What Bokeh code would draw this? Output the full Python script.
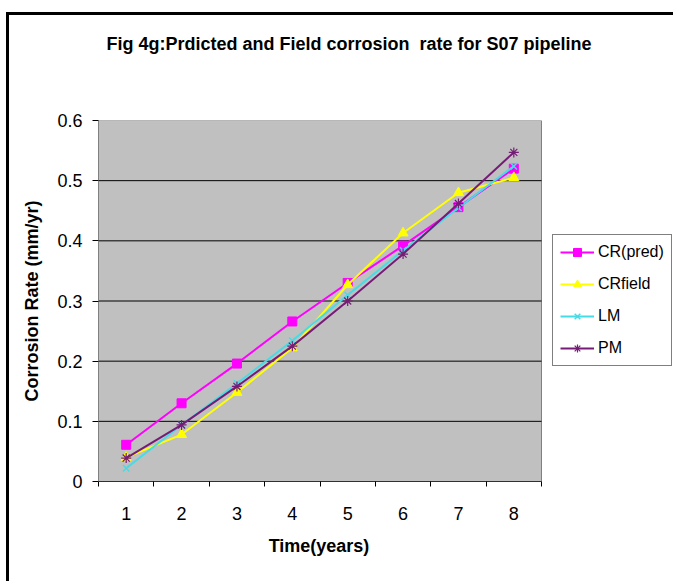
from bokeh.plotting import figure
from bokeh.models import Range1d, FixedTicker, Legend, LegendItem, Div
from bokeh.layouts import column
from bokeh.embed import file_html
from bokeh.resources import INLINE

years = [1, 2, 3, 4, 5, 6, 7, 8]
cr_pred = [0.061, 0.130, 0.196, 0.266, 0.330, 0.392, 0.456, 0.520]
cr_field = [0.040, 0.078, 0.148, 0.222, 0.327, 0.413, 0.480, 0.505]
lm = [0.022, 0.094, 0.163, 0.234, 0.310, 0.384, 0.455, 0.524]
pm = [0.039, 0.094, 0.158, 0.225, 0.300, 0.378, 0.462, 0.547]
y_ticks = [0, 0.1, 0.2, 0.3, 0.4, 0.5, 0.6]
title_text = "Fig 4g:Prdicted and Field corrosion  rate for S07 pipeline"
x_title = "Time(years)"
y_title = "Corrosion Rate (mm/yr)"

FONT = "Liberation Sans"

# layout sizes (pixels)
FIG_W, FIG_H = 664, 456
BORDER_L, BORDER_T, BORDER_B = 89, 45, 50
PLOT_PX = 443                     # width of the grey plot area
FRAME_PX = FIG_W - BORDER_L       # frame runs to the right edge (room for legend)

x0 = years[0] - 0.5
x1 = years[-1] + 0.5
x_end = x0 + (x1 - x0) * FRAME_PX / PLOT_PX

title_div = Div(text='<div style="padding-top:17px;padding-left:16px">' + title_text + '</div>',
                width=FIG_W, height=60, margin=0,
                styles={"text-align": "center", "font-family": FONT, "font-size": "18px",
                        "font-weight": "bold", "color": "black", "white-space": "pre"})

xlabel_div = Div(text='<div style="padding-top:3px">' + x_title + '</div>',
                 width=2 * (BORDER_L + PLOT_PX // 2), height=50, margin=0,
                 styles={"text-align": "center", "font-family": FONT, "font-size": "18px",
                         "font-weight": "bold", "color": "black"})

p = figure(width=FIG_W, height=FIG_H, output_backend="svg", toolbar_location=None,
           x_range=Range1d(x0, x_end), y_range=Range1d(y_ticks[0], y_ticks[-1]),
           min_border_left=BORDER_L, min_border_right=0, min_border_top=BORDER_T,
           min_border_bottom=BORDER_B)

p.background_fill_color = "white"
p.border_fill_color = "white"
p.outline_line_color = None
p.xgrid.grid_line_color = None
p.ygrid.grid_line_color = None

# grey plot area and horizontal gridlines
p.quad(left=[x0], right=[x1], bottom=[y_ticks[0]], top=[y_ticks[-1]],
       fill_color="#C0C0C0", line_color="#808080", line_width=1)
grid_y = y_ticks[1:-1]
p.segment(x0=[x0] * len(grid_y), x1=[x1] * len(grid_y), y0=grid_y, y1=grid_y,
          line_color="black", line_width=1)

# axes
xa = p.below[0]
xa.bounds = (x0, x1)
xa.ticker = FixedTicker(ticks=years, minor_ticks=[x - 0.5 for x in years] + [x1])
xa.major_tick_line_color = None
xa.major_tick_out = 0
xa.major_tick_in = 0
xa.minor_tick_line_color = "black"
xa.minor_tick_out = 5
xa.minor_tick_in = 0
xa.axis_line_color = "#303030"
xa.major_label_standoff = 20

ya = p.left[0]
ya.ticker = FixedTicker(ticks=y_ticks, minor_ticks=[])
ya.major_label_overrides = {0: "0"}
ya.major_tick_out = 6
ya.major_tick_in = 0
ya.major_tick_line_color = "black"
ya.minor_tick_line_color = None
ya.axis_line_color = "#808080"
ya.major_label_standoff = 10
ya.axis_label = y_title
ya.axis_label_standoff = 12
ya.axis_label_text_font = FONT
ya.axis_label_text_font_size = "18px"
ya.axis_label_text_font_style = "bold"
ya.axis_label_text_color = "black"

for ax in (xa, ya):
    ax.major_label_text_font = FONT
    ax.major_label_text_font_size = "18px"
    ax.major_label_text_color = "black"

# series
l1 = p.line(years, cr_pred, line_color="#FF00FF", line_width=2)
m1 = p.scatter(years, cr_pred, marker="square", size=9, fill_color="#FF00FF", line_color="#FF00FF")
l2 = p.line(years, cr_field, line_color="#FFFF00", line_width=2)
m2 = p.scatter(years, cr_field, marker="triangle", size=10, fill_color="#FFFF00", line_color="#FFFF00")
l3 = p.line(years, lm, line_color="#45DCE6", line_width=2)
m3 = p.scatter(years, lm, marker="x", size=9, line_color="#45DCE6", line_width=1.5)
l4 = p.line(years, pm, line_color="#761C76", line_width=2)
m4 = p.scatter(years, pm, marker="asterisk", size=10, line_color="#761C76", line_width=1.2)

legend = Legend(items=[
    LegendItem(label="CR(pred)", renderers=[l1, m1]),
    LegendItem(label="CRfield", renderers=[l2, m2]),
    LegendItem(label="LM", renderers=[l3, m3]),
    LegendItem(label="PM", renderers=[l4, m4]),
], location=(454, 115))
legend.label_text_font = FONT
legend.label_text_font_size = "16px"
legend.label_text_color = "black"
legend.label_height = 20
legend.glyph_height = 20
legend.glyph_width = 34
legend.label_standoff = 4
legend.spacing = 12
legend.padding = 7
legend.margin = 0
legend.border_line_color = "black"
legend.border_line_width = 1
legend.background_fill_color = "white"
legend.background_fill_alpha = 1
p.add_layout(legend, "center")

layout = column(title_div, p, xlabel_div, spacing=0)
# outer black frame of the chart area (cut by the window at right/bottom)
layout.styles = {"border-left": "3px solid black", "border-top": "3px solid black",
                 "margin-left": "6px", "margin-top": "12px"}

open("out.html", "w").write(file_html(layout, INLINE))
